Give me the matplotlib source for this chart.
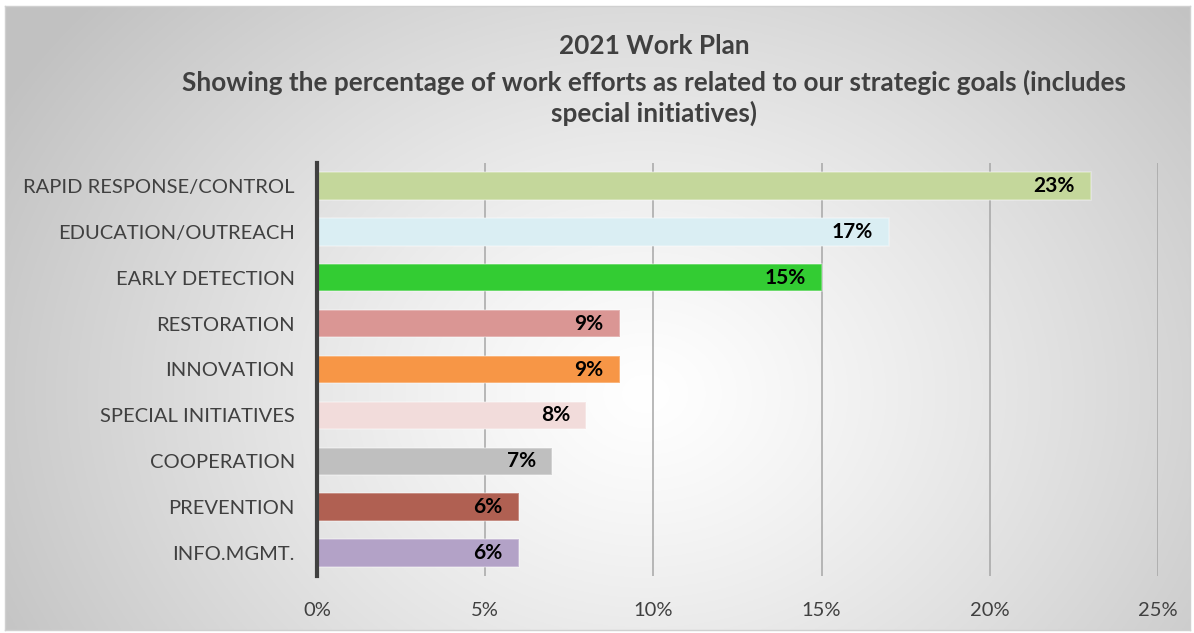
import numpy as np
import matplotlib
matplotlib.use("Agg")
import matplotlib.pyplot as plt
from matplotlib.ticker import FuncFormatter

categories = ["RAPID RESPONSE/CONTROL", "EDUCATION/OUTREACH", "EARLY DETECTION",
              "RESTORATION", "INNOVATION", "SPECIAL INITIATIVES", "COOPERATION",
              "PREVENTION", "INFO.MGMT."]
values = [23, 17, 15, 9, 9, 8, 7, 6, 6]
colors = ["#c4d79b", "#daeef3", "#33cc33", "#da9694", "#f79646", "#f2dcdb",
          "#bfbfbf", "#b06052", "#b3a2c7"]
xticks = [0, 5, 10, 15, 20, 25]

plt.rcParams['font.family'] = ['Lato', 'DejaVu Sans']

W, H = 1194, 633
fig = plt.figure(figsize=(W / 100, H / 100), dpi=100)

# background gradient (chart area)
bg = fig.add_axes([5 / W, 1 - 630 / H, 1185 / W, 624 / H], zorder=0)
ny, nx = 300, 600
yy, xx = np.mgrid[0:ny, 0:nx]
cx, cy = nx * 0.54, ny * 0.62
r = np.sqrt(((xx - cx) / (nx * 0.62)) ** 2 + ((yy - cy) / (ny * 0.95)) ** 2)
r = np.clip(r, 0, 1)
lo = 1.0 - 0.24 * r ** 1.2
img = np.dstack([lo, lo, lo])
bg.imshow(img, aspect='auto', extent=[0, 1, 0, 1], origin='upper')
bg.set_xlim(0, 1); bg.set_ylim(0, 1)
for s in bg.spines.values():
    s.set_color('#d0d0d0'); s.set_linewidth(1)
bg.set_xticks([]); bg.set_yticks([])

ax = fig.add_axes([317 / W, 1 - 576 / H, (1158 - 317) / W, (576 - 163) / H], zorder=1)
ax.patch.set_alpha(0)
y = np.arange(len(categories))
ax.barh(y, values, height=0.6, color=colors, linewidth=0, zorder=2)
# light edge
ax.barh(y, values, height=0.6, facecolor='none', edgecolor=(1, 1, 1, 0.35), linewidth=1.2, zorder=3)
ax.set_ylim(len(categories) - 0.5, -0.5)
ax.set_xlim(0, 25)
ax.set_xticks(xticks)
ax.xaxis.set_major_formatter(FuncFormatter(lambda v, p: f"{int(v)}%"))
ax.set_yticks(y)
ax.set_yticklabels(categories)
ax.tick_params(axis='y', length=0, pad=16, labelsize=14.5, labelcolor='#404040')
ax.tick_params(axis='x', length=0, pad=19, labelsize=14.5, labelcolor='#404040')
ax.grid(axis='x', color='#a6a6a6', linewidth=1.1, zorder=1)
ax.set_axisbelow(True)
for k in ['top', 'right', 'bottom']:
    ax.spines[k].set_visible(False)
ax.spines['left'].set_color('#404040')
ax.spines['left'].set_linewidth(3)
ax.spines['left'].set_zorder(4)

for yi, v in zip(y, values):
    ax.text(v - 0.48, yi, f"{v}%", ha='right', va='center', fontsize=15,
            fontweight='bold', color='black', zorder=5)

tx = 654 / W
fig.text(tx, 1 - 46 / H, "2021 Work Plan", ha='center', va='center',
         fontsize=18.8, fontweight='bold', color='#404040')
fig.text(tx, 1 - 98 / H,
         "Showing the percentage of work efforts as related to our strategic goals (includes\nspecial initiatives)",
         ha='center', va='center', fontsize=18.8, fontweight='bold', color='#404040',
         linespacing=1.25, multialignment='center')

fig.savefig("out.png", dpi=100, facecolor='white')
